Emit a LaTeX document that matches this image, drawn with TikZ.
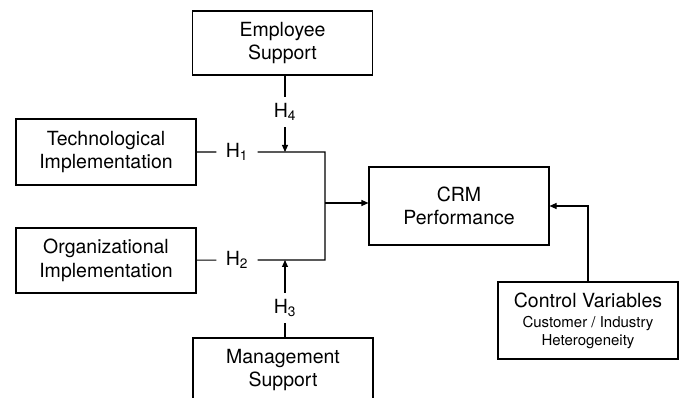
\documentclass[tikz,border=0pt]{standalone}
\usepackage{fontspec}
\setmainfont{TeX Gyre Heros}
\usetikzlibrary{arrows.meta}
\newcommand\subtxt{\fontsize{15}{17.5}\selectfont}

\begin{document}
\begin{tikzpicture}[x=1pt,y=-1pt,line width=1.1pt,>={Triangle[length=7pt,width=6pt]},
    font=\fontsize{19.5}{23.5}\selectfont,
    box/.style={rectangle,draw,align=center,minimum width=180pt,inner sep=0pt},
    hyp/.style={inner xsep=9pt,inner ysep=6pt}]
\clip (0,0) rectangle (681,398);

\node[box,minimum height=64pt] (emp)  at (282.5,43)  {Employee\\Support};
\node[box,minimum height=66pt] (tech) at (106,152)   {Technological\\Implementation};
\node[box,minimum height=65pt] (org)  at (106,260.5) {Organizational\\Implementation};
\node[box,minimum height=78pt] (crm)  at (459,206)   {CRM\\Performance};
\node[box,minimum height=77pt] (ctrl) at (588,320.5) {Control Variables\\[-3pt]{\subtxt Customer / Industry}\\[-6pt]{\subtxt Heterogeneity}};
\node[box,minimum height=64pt] (mgmt) at (283,370)   {Management\\Support};

\node[hyp] (h1) at (237,152) {H\textsubscript{1}};
\node[hyp] (h2) at (237,260) {H\textsubscript{2}};
\node[hyp] (h3) at (285,308) {H\textsubscript{3}};
\node[hyp] (h4) at (285,112) {H\textsubscript{4}};
\coordinate (j) at (325,203);

\draw (tech) -- (h1) -- (h1 -| j) -- (h2 -| j) -- (h2) -- (org);
\draw[->] (j) -- (j -| crm.west);
\draw (emp.south -| h4) -- (h4);
\draw[->] (h4) -- (h4 |- h1);
\draw (mgmt.north -| h3) -- (h3);
\draw[->] (h3) -- (h3 |- h2);
\draw[->] (ctrl.north) |- (crm.east);
\end{tikzpicture}
\end{document}
